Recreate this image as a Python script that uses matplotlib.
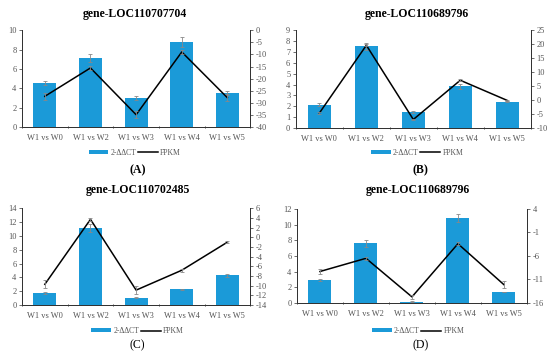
import matplotlib
matplotlib.use("Agg")
import matplotlib.pyplot as plt
import numpy as np

plt.rcParams['font.family'] = ['Liberation Serif', 'DejaVu Serif']
plt.rcParams['axes.unicode_minus'] = False

groups = ["W1 vs W0", "W1 vs W2", "W1 vs W3", "W1 vs W4", "W1 vs W5"]

titles = ["gene-LOC110707704", "gene-LOC110689796", "gene-LOC110702485", "gene-LOC110689796"]
labels = ["(A)", "(B)", "(C)", "(D)"]

ddct_a = [4.55, 7.1, 3.0, 8.8, 3.5]
ddct_a_err = [0.2, 0.4, 0.2, 0.5, 0.2]
fpkm_a = [-27.3, -15.6, -34.9, -9.0, -27.9]
fpkm_a_err = [1.5, 0.8, 1.5, 0.8, 1.5]

ddct_b = [2.17, 7.5, 1.47, 3.83, 2.42]
ddct_b_err = [0.12, 0.3, 0.1, 0.2, 0.05]
fpkm_b = [-4.6, 19.6, -6.9, 7.1, -0.1]
fpkm_b_err = [0.3, 0.3, 0.3, 0.3, 0.3]

ddct_c = [1.79, 11.1, 1.1, 2.27, 4.3]
ddct_c_err = [0.15, 0.6, 0.1, 0.1, 0.25]
fpkm_c = [-9.7, 3.7, -10.9, -6.8, -1.0]
fpkm_c_err = [0.8, 0.3, 0.8, 0.3, 0.2]

ddct_d = [2.9, 7.6, 0.15, 10.8, 1.4]
ddct_d_err = [0.15, 0.4, 0.05, 0.5, 0.05]
fpkm_d = [-9.3, -6.5, -14.7, -3.4, -12.1]
fpkm_d_err = [0.6, 0.3, 0.4, 0.3, 0.8]

panels = [
    (ddct_a, ddct_a_err, fpkm_a, fpkm_a_err, (0, 10, 2), (-40, 0, 5)),
    (ddct_b, ddct_b_err, fpkm_b, fpkm_b_err, (0, 9, 1), (-10, 25, 5)),
    (ddct_c, ddct_c_err, fpkm_c, fpkm_c_err, (0, 14, 2), (-14, 6, 2)),
    (ddct_d, ddct_d_err, fpkm_d, fpkm_d_err, (0, 12, 2), (-16, 4, 5)),
]

rects = [
    [0.040, 0.646, 0.415, 0.270],
    [0.538, 0.643, 0.427, 0.273],
    [0.040, 0.150, 0.415, 0.270],
    [0.540, 0.156, 0.418, 0.262],
]
title_pos = [(0.245, 0.962), (0.758, 0.962), (0.250, 0.470), (0.760, 0.470)]
leg_pos = [(0.245, 0.574), (0.758, 0.574), (0.250, 0.078), (0.760, 0.078)]
lab_pos = [(0.250, 0.525), (0.765, 0.525), (0.250, 0.038), (0.765, 0.038)]

bar_color = "#1b9ad8"
tick_color = "#555555"

fig = plt.figure(figsize=(5.5, 3.59), dpi=100)
x = np.arange(len(groups))

for i, (bars, berr, line, lerr, lrng, rrng) in enumerate(panels):
    ax = fig.add_axes(rects[i])
    ax2 = ax.twinx()
    b = ax.bar(x, bars, width=0.5, color=bar_color, yerr=berr,
               error_kw=dict(ecolor="#888888", elinewidth=0.6, capsize=1.5, capthick=0.6))
    ax.set_ylim(lrng[0], lrng[1])
    ax.set_yticks(np.arange(lrng[0], lrng[1] + 0.1, lrng[2]))
    ax.set_xlim(-0.45, 4.45)
    ax.set_xticks(x)
    ax.set_xticklabels(groups)
    ax.set_xticks(np.arange(-0.5, 5, 1), minor=True)
    ln, = ax2.plot(x, line, color="black", lw=1.1)
    ax2.errorbar(x, line, yerr=lerr, fmt="none", ecolor="#888888",
                 elinewidth=0.6, capsize=1.5, capthick=0.6)
    ax2.set_ylim(rrng[0], rrng[1])
    ax2.set_yticks(np.arange(rrng[0], rrng[1] + 0.1, rrng[2]))
    for a in (ax, ax2):
        a.spines['top'].set_visible(False)
        for s in a.spines.values():
            s.set_linewidth(0.7)
            s.set_color("#333333")
        a.tick_params(labelsize=6, colors=tick_color, length=2, width=0.6, pad=2)
    ax.tick_params(axis='x', which='major', length=0, pad=5)
    ax.tick_params(axis='x', which='minor', length=2, width=0.6, color="#333333", direction="inout")
    fig.text(title_pos[i][0], title_pos[i][1], titles[i], ha="center", va="center",
             fontsize=8.5, fontweight="bold")
    fig.legend([b, ln], ["2-ΔΔCT", "FPKM"], loc="center",
               bbox_to_anchor=leg_pos[i], ncol=2, frameon=False, fontsize=5.5,
               handlelength=2.6, handleheight=0.5, columnspacing=0.2, handletextpad=0.3,
               labelcolor=tick_color)
    weight = "bold" if i < 2 else "normal"
    fig.text(lab_pos[i][0], lab_pos[i][1], labels[i], ha="center", va="center",
             fontsize=8.5, fontweight=weight)

fig.savefig("out.png", dpi=100)
